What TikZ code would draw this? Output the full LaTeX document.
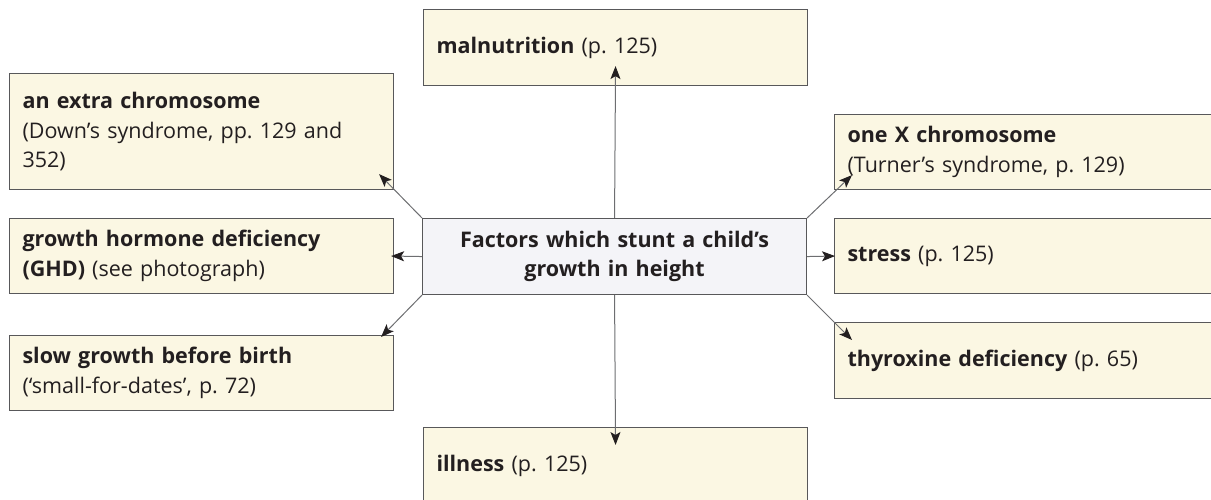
\documentclass[tikz,border=0pt]{standalone}
\usepackage{fontspec}
\setmainfont{Open Sans}
\usetikzlibrary{arrows.meta}

\definecolor{boxfill}{HTML}{FBF7E3}
\definecolor{hubfill}{HTML}{F4F4F8}
\definecolor{boxline}{HTML}{58585A}
\definecolor{linegray}{HTML}{6D6E71}
\definecolor{ink}{HTML}{231F20}

\begin{document}
\begin{tikzpicture}[x=1pt, y=1pt,
	factor/.style={draw=boxline, line width=1.1pt, fill=boxfill, anchor=north west,
		minimum width=384pt, minimum height=75pt, text width=358pt, inner xsep=13pt,
		align=left, text=ink, font=\fontsize{21.5}{29.5}\selectfont},
	hub/.style={factor, fill=hubfill, align=center},
	arr/.style={draw=linegray, line width=1pt,
		-{Stealth[length=13pt, width=10pt, inset=3pt, color=ink]}}]
	\clip (0,0) rectangle (1211,500);

	% centre box
	\node[hub, minimum height=76pt] (hub) at (422,282) {\textbf{Factors which stunt a child’s\\growth in height}};

	% left column
	\node[factor, minimum height=116pt] (extra) at (9,427) {\textbf{an extra chromosome}\\(Down’s syndrome, pp.\ 129 and 352)};
	\node[factor] (ghd) at (9,282) {\textbf{growth hormone deficiency (GHD)} (see photograph)};
	\node[factor] (slow) at (9,165) {\textbf{slow growth before birth}\\(‘small-for-dates’, p.\ 72)};

	% top and bottom
	\node[factor, minimum height=76pt] (mal) at (423,491) {\textbf{malnutrition} (p.\ 125)};
	\node[factor, minimum height=76pt] (ill) at (423,73) {\textbf{illness} (p.\ 125)};

	% right column
	\node[factor] (onex) at (834,386) {\textbf{one X chromosome}\\(Turner’s syndrome, p.\ 129)};
	\node[factor] (stress) at (834,282) {\textbf{stress} (p.\ 125)};
	\node[factor, minimum height=76pt] (thyr) at (834,178) {\textbf{thyroxine deficiency} (p.\ 65)};

	% arrows out of the centre
	\draw[arr] (hub.north) -- ([yshift=20pt]mal.south);
	\draw[arr] (hub.south) -- ([yshift=-18pt]ill.north);
	\draw[arr] (hub.north west) -- ([shift={(-15,16)}]extra.south east);
	\draw[arr] (hub.west) -- ([xshift=-3pt]ghd.east);
	\draw[arr] (hub.south west) -- ([shift={(-13,-2)}]slow.north east);
	\draw[arr] (hub.north east) -- ([shift={(18,15)}]onex.south west);
	\draw[arr] (hub.east) -- ([xshift=1pt]stress.west);
	\draw[arr] (hub.south east) -- ([shift={(18,-18)}]thyr.north west);
\end{tikzpicture}
\end{document}
